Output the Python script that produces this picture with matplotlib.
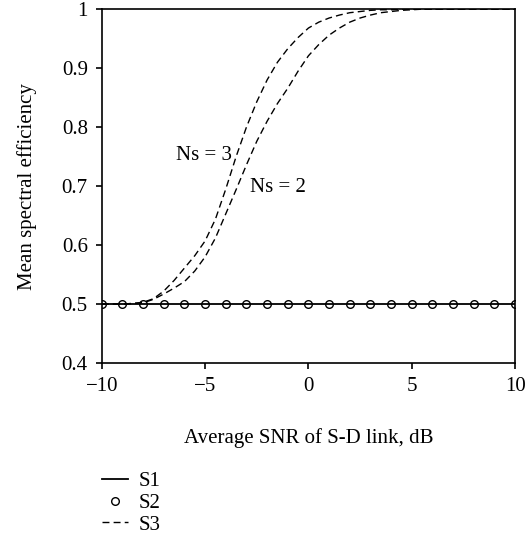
import matplotlib
matplotlib.use('Agg')
import matplotlib.pyplot as plt
import numpy as np

plt.rcParams['font.family'] = ['Liberation Serif', 'DejaVu Serif']

# SNR de -10 a 10 dB (paso 0.5 dB para las curvas S3, paso 1 dB para S2)
snr = np.arange(-10, 10.5, 0.5)
snr_pts = np.arange(-10, 11)
s1 = [0.5] * len(snr)
s2 = [0.5] * len(snr_pts)
s3_ns3 = [0.5, 0.5, 0.5, 0.501, 0.503, 0.509, 0.522, 0.540, 0.561, 0.582,
          0.607, 0.644, 0.695, 0.750, 0.800, 0.843, 0.880, 0.910, 0.933, 0.952,
          0.968, 0.978, 0.985, 0.990, 0.994, 0.996, 0.998, 0.999, 0.999, 1.0,
          1.0, 1.0, 1.0, 1.0, 1.0, 1.0, 1.0, 1.0, 1.0, 1.0, 1.0]
s3_ns2 = [0.5, 0.5, 0.5, 0.501, 0.502, 0.508, 0.517, 0.527, 0.538, 0.556,
          0.580, 0.612, 0.653, 0.694, 0.736, 0.776, 0.810, 0.840, 0.866, 0.895,
          0.921, 0.940, 0.956, 0.968, 0.978, 0.985, 0.990, 0.994, 0.996, 0.998,
          0.999, 1.0, 1.0, 1.0, 1.0, 1.0, 1.0, 1.0, 1.0, 1.0, 1.0]

fs = 15

fig = plt.figure(figsize=(5.3, 5.39), dpi=100)
ax = fig.add_axes([0.192, 0.3265, 0.780, 0.6565])

ax.plot(snr, s1, '-', color='black', lw=1.3, label='S1')
ax.plot(snr_pts, s2, 'o', color='black', mfc='none', mew=1.0, ms=5.5, label='S2')
ax.plot(snr, s3_ns3, '--', color='black', lw=1.0, dashes=(5, 3), label='S3')
ax.plot(snr, s3_ns2, '--', color='black', lw=1.0, dashes=(5, 3))

ax.text(-3.7, 0.752, 'Ns = 3', fontsize=fs, ha='right', va='center')
ax.text(-2.85, 0.697, 'Ns = 2', fontsize=fs, ha='left', va='center')

ax.set_xlim(-10, 10)
ax.set_ylim(0.4, 1.0)
ax.set_xticks([-10, -5, 0, 5, 10])
ax.set_xticklabels(['\u221210', '\u22125', '0', '5', '10'])
ax.set_yticks([0.4, 0.5, 0.6, 0.7, 0.8, 0.9, 1.0])
ax.set_yticklabels(['0.4', '0.5', '0.6', '0.7', '0.8', '0.9', '1'])
ax.tick_params(direction='out', length=4, width=1.2, labelsize=fs)
ax.tick_params(axis='x', pad=6)
ax.tick_params(axis='y', pad=6)
for sp in ax.spines.values():
    sp.set_linewidth(1.2)

ax.set_xlabel('Average SNR of S-D link, dB', fontsize=fs, labelpad=23)
ax.set_ylabel('Mean spectral efficiency', fontsize=fs, labelpad=18)

fig.legend(loc='upper left', bbox_to_anchor=(0.192, 0.125), frameon=False,
           fontsize=fs, handlelength=1.25, handletextpad=0.5, labelspacing=0.1,
           borderaxespad=0, borderpad=0)

fig.savefig('out.png', dpi=100, facecolor='white')
